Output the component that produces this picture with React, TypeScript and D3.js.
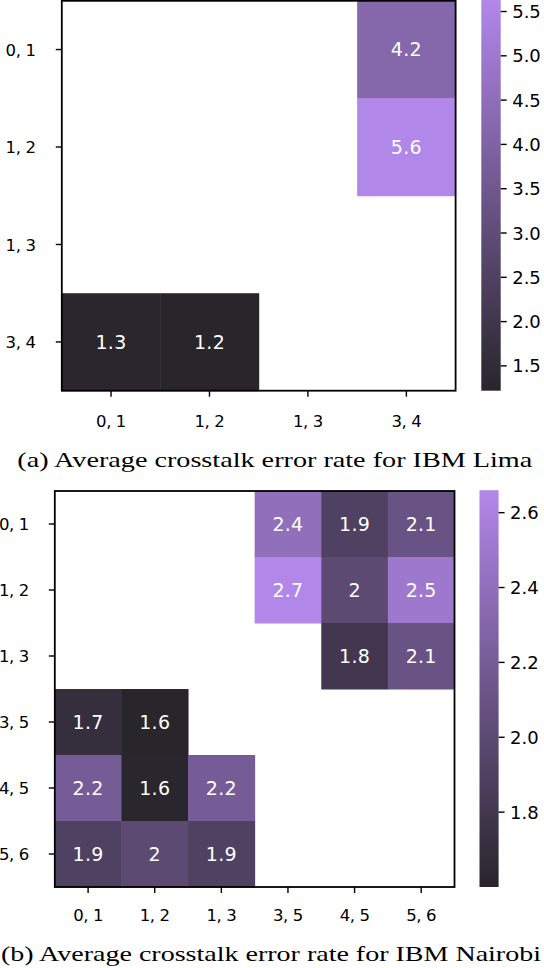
import * as d3 from "d3";
import React from "react";

// pair labels and averaged crosstalk error rates
const limaPairs = ["0, 1", "1, 2", "1, 3", "3, 4"];
const limaValues: (number | null)[][] = [
  [null, null, null, 4.2],
  [null, null, null, 5.63],
  [null, null, null, null],
  [1.26, 1.22, null, null],
];
const limaTicks = [1.5, 2.0, 2.5, 3.0, 3.5, 4.0, 4.5, 5.0, 5.5];
const limaCaption = "(a) Average crosstalk error rate for IBM Lima";

const nairobiPairs = ["0, 1", "1, 2", "1, 3", "3, 5", "4, 5", "5, 6"];
const nairobiValues: (number | null)[][] = [
  [null, null, null, 2.4, 1.9, 2.1],
  [null, null, null, 2.66, 2.0, 2.5],
  [null, null, null, null, 1.8, 2.1],
  [1.7, 1.6, null, null, null, null],
  [2.2, 1.61, 2.2, null, null, null],
  [1.9, 2.0, 1.9, null, null, null],
];
const nairobiTicks = [1.8, 2.0, 2.2, 2.4, 2.6];
const nairobiCaption = "(b) Average crosstalk error rate for IBM Nairobi";

type Panel = {
  pairs: string[];
  values: (number | null)[][];
  ticks: number[];
  caption: string;
  plot: { x0: number; x1: number; y0: number; y1: number };
  cb: { x0: number; x1: number };
  yLabelX: number;
  xLabelY: number;
  captionX: number;
  captionY: number;
  captionLen: number;
};

const width = 544;
const height = 968;
const dark = "#28252b";
const light = "#b287ea";
const sans = "DejaVu Sans";

export default function App() {
  const ref = React.useRef<SVGSVGElement | null>(null);

  const panels: Panel[] = [
    {
      pairs: limaPairs,
      values: limaValues,
      ticks: limaTicks,
      caption: limaCaption,
      plot: { x0: 61.8, x1: 455.6, y0: 0.8, y1: 390.7 },
      cb: { x0: 481.3, x1: 500.7 },
      yLabelX: 35.5,
      xLabelY: 426.5,
      captionX: 17.3,
      captionY: 467,
      captionLen: 515,
    },
    {
      pairs: nairobiPairs,
      values: nairobiValues,
      ticks: nairobiTicks,
      caption: nairobiCaption,
      plot: { x0: 54.8, x1: 454.5, y0: 491, y1: 887 },
      cb: { x0: 479.5, x1: 498.6 },
      yLabelX: 28.8,
      xLabelY: 921,
      captionX: 1,
      captionY: 961,
      captionLen: 540,
    },
  ];

  const drawPanel = (svg: d3.Selection<SVGSVGElement, unknown, null, undefined>, p: Panel, idx: number) => {
    const g = svg.append("g");
    const flat = p.values.flat().filter((v): v is number => v !== null);
    const lo = d3.min(flat) as number;
    const hi = d3.max(flat) as number;

    const color = d3
      .scaleLinear<string>()
      .domain([lo, hi])
      .range([dark, light])
      .interpolate(d3.interpolateRgb);

    const x = d3.scaleBand<string>().domain(p.pairs).range([p.plot.x0, p.plot.x1]);
    const y = d3.scaleBand<string>().domain(p.pairs).range([p.plot.y0, p.plot.y1]);

    const cells = p.values.flatMap((row, r) =>
      row.map((v, c) => ({ row: p.pairs[r], col: p.pairs[c], v }))
    ).filter((d) => d.v !== null) as { row: string; col: string; v: number }[];

    g.append("g")
      .selectAll("rect")
      .data(cells)
      .join("rect")
      .attr("x", (d) => x(d.col)!)
      .attr("y", (d) => y(d.row)!)
      .attr("width", x.bandwidth() + 0.5)
      .attr("height", y.bandwidth() + 0.5)
      .attr("fill", (d) => color(d.v));

    g.append("g")
      .selectAll("text")
      .data(cells)
      .join("text")
      .text((d) => d3.format(".2~g")(d.v))
      .attr("x", (d) => x(d.col)! + x.bandwidth() / 2)
      .attr("y", (d) => y(d.row)! + y.bandwidth() / 2 + 6.8)
      .attr("text-anchor", "middle")
      .attr("fill", "#fff")
      .attr("font-family", sans)
      .attr("font-size", 19)
      .attr("letter-spacing", 0.3);

    // frame
    g.append("rect")
      .attr("x", p.plot.x0)
      .attr("y", p.plot.y0)
      .attr("width", p.plot.x1 - p.plot.x0)
      .attr("height", p.plot.y1 - p.plot.y0)
      .attr("fill", "none")
      .attr("stroke", "#000")
      .attr("stroke-width", 1.8);

    // y ticks + labels
    const yt = g.append("g");
    p.pairs.forEach((name) => {
      const cy = y(name)! + y.bandwidth() / 2;
      yt.append("line")
        .attr("x1", p.plot.x0 - 6)
        .attr("x2", p.plot.x0)
        .attr("y1", cy)
        .attr("y2", cy)
        .attr("stroke", "#000")
        .attr("stroke-width", 1.4);
      yt.append("text")
        .text(name)
        .attr("x", p.yLabelX)
        .attr("y", cy + 6.3)
        .attr("text-anchor", "end")
        .attr("font-family", sans)
        .attr("font-size", 16.5)
        .attr("letter-spacing", -0.4)
        .attr("fill", "#000");
    });

    // x ticks + labels
    const xt = g.append("g");
    p.pairs.forEach((name) => {
      const cx = x(name)! + x.bandwidth() / 2;
      xt.append("line")
        .attr("x1", cx)
        .attr("x2", cx)
        .attr("y1", p.plot.y1)
        .attr("y2", p.plot.y1 + 6)
        .attr("stroke", "#000")
        .attr("stroke-width", 1.4);
      xt.append("text")
        .text(name)
        .attr("x", cx)
        .attr("y", p.xLabelY)
        .attr("text-anchor", "middle")
        .attr("font-family", sans)
        .attr("font-size", 16.5)
        .attr("letter-spacing", -0.4)
        .attr("fill", "#000");
    });

    // colorbar
    const cbY = d3.scaleLinear().domain([lo, hi]).range([p.plot.y1, p.plot.y0 - 0.8]);
    const gradId = `cb-grad-${idx}`;
    const grad = svg
      .append("defs")
      .append("linearGradient")
      .attr("id", gradId)
      .attr("x1", 0)
      .attr("y1", 1)
      .attr("x2", 0)
      .attr("y2", 0);
    d3.range(0, 1.0001, 0.1).forEach((t) => {
      grad.append("stop").attr("offset", t).attr("stop-color", color(lo + t * (hi - lo)));
    });
    g.append("rect")
      .attr("x", p.cb.x0)
      .attr("y", cbY(hi))
      .attr("width", p.cb.x1 - p.cb.x0)
      .attr("height", cbY(lo) - cbY(hi))
      .attr("fill", `url(#${gradId})`);

    const ct = g.append("g");
    p.ticks.forEach((t) => {
      const ty = cbY(t);
      ct.append("line")
        .attr("x1", p.cb.x1)
        .attr("x2", p.cb.x1 + 6)
        .attr("y1", ty)
        .attr("y2", ty)
        .attr("stroke", "#000")
        .attr("stroke-width", 1.4);
      ct.append("text")
        .text(d3.format(".1f")(t))
        .attr("x", p.cb.x1 + 11.5)
        .attr("y", ty + 6.6)
        .attr("font-family", sans)
        .attr("font-size", 18)
        .attr("fill", "#000");
    });

    g.append("text")
      .text(p.caption)
      .attr("x", p.captionX)
      .attr("y", p.captionY)
      .attr("textLength", p.captionLen)
      .attr("lengthAdjust", "spacingAndGlyphs")
      .attr("font-family", "Liberation Serif")
      .attr("font-size", 21.5)
      .attr("fill", "#000");
  };

  React.useEffect(() => {
    if (!ref.current) return;
    const svg = d3.select(ref.current).attr("width", width).attr("height", height);
    svg.selectAll("*").remove();
    svg.append("rect").attr("width", width).attr("height", height).attr("fill", "#fff");
    panels.forEach((p, i) => drawPanel(svg, p, i));
  });

  return (
    <svg
      ref={ref}
      width={width}
      height={height}
      style={{ position: "absolute", left: 0, top: 0 }}
    ></svg>
  );
}
